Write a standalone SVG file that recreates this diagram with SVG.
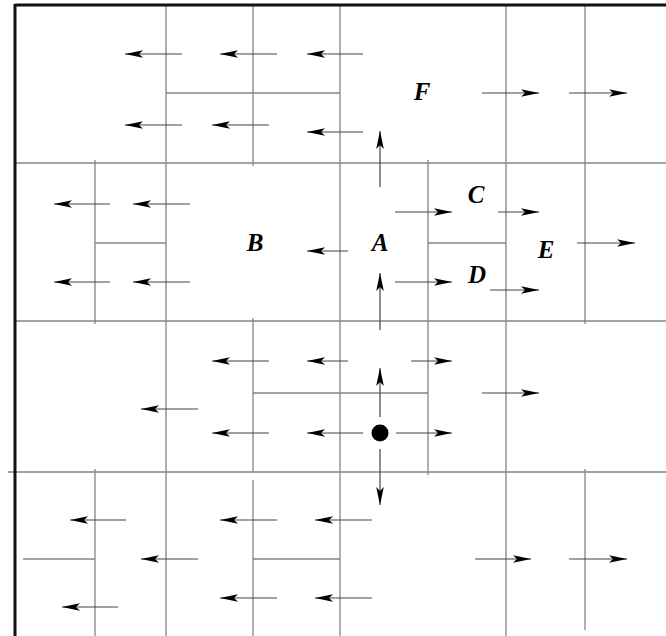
<svg xmlns="http://www.w3.org/2000/svg" width="666" height="636" viewBox="0 0 666 636">
<style>
.g{stroke:#858585;stroke-width:1.3;fill:none}
.b{stroke:#111;stroke-width:3;fill:none}
.a{stroke:#444;stroke-width:1.2;fill:none;marker-end:url(#ah)}
.l{font-family:"Liberation Serif",serif;font-style:italic;font-weight:bold;font-size:25px;fill:#000;text-anchor:middle}
</style>
<defs>
<marker id="ah" markerUnits="userSpaceOnUse" viewBox="-19 -5 20 10" refX="0" refY="0" markerWidth="20" markerHeight="10" orient="auto">
<path d="M0,0 L-18,-3.8 L-14,0 L-18,3.8 Z" fill="#000"/>
</marker>
</defs>
<rect width="666" height="636" fill="#fff"/>
<g id="grid">
<line class="g" x1="15" y1="163" x2="666" y2="163"/>
<line class="g" x1="15" y1="321" x2="666" y2="321"/>
<line class="g" x1="8" y1="472" x2="666" y2="472"/>
<line class="g" x1="166" y1="5" x2="166" y2="636"/>
<line class="g" x1="340" y1="5" x2="340" y2="636"/>
<line class="g" x1="506" y1="5" x2="506" y2="636"/>
<line class="g" x1="253" y1="5" x2="253" y2="166"/>
<line class="g" x1="253" y1="318" x2="253" y2="472"/>
<line class="g" x1="253" y1="480" x2="253" y2="636"/>
<line class="g" x1="428" y1="160" x2="428" y2="475"/>
<line class="g" x1="585" y1="5" x2="585" y2="324"/>
<line class="g" x1="585" y1="469" x2="585" y2="630"/>
<line class="g" x1="95" y1="160" x2="95" y2="324"/>
<line class="g" x1="95" y1="469" x2="95" y2="636"/>
<line class="g" x1="166" y1="93" x2="340" y2="93"/>
<line class="g" x1="95" y1="243" x2="166" y2="243"/>
<line class="g" x1="428" y1="243" x2="506" y2="243"/>
<line class="g" x1="253" y1="393" x2="428" y2="393"/>
<line class="g" x1="23" y1="559" x2="95" y2="559"/>
<line class="g" x1="253" y1="559" x2="340" y2="559"/>
<line class="b" x1="15" y1="5" x2="666" y2="5"/>
<line class="b" x1="15" y1="4" x2="15" y2="636"/>
</g>
<g id="connectors">
<line class="a" x1="182" y1="54" x2="125" y2="54"/>
<line class="a" x1="277" y1="54" x2="220" y2="54"/>
<line class="a" x1="363" y1="54" x2="307" y2="54"/>
<line class="a" x1="182" y1="125" x2="125" y2="125"/>
<line class="a" x1="269" y1="125" x2="212" y2="125"/>
<line class="a" x1="363" y1="132" x2="307" y2="132"/>
<line class="a" x1="380" y1="187" x2="380" y2="131"/>
<line class="a" x1="482" y1="93" x2="539" y2="93"/>
<line class="a" x1="569" y1="93" x2="627" y2="93"/>
<line class="a" x1="110" y1="204" x2="54" y2="204"/>
<line class="a" x1="190" y1="204" x2="133" y2="204"/>
<line class="a" x1="110" y1="282" x2="54" y2="282"/>
<line class="a" x1="190" y1="282" x2="133" y2="282"/>
<line class="a" x1="348" y1="251" x2="307" y2="251"/>
<line class="a" x1="395" y1="212" x2="452" y2="212"/>
<line class="a" x1="498" y1="212" x2="539" y2="212"/>
<line class="a" x1="380" y1="330" x2="380" y2="273"/>
<line class="a" x1="395" y1="282" x2="452" y2="282"/>
<line class="a" x1="490" y1="290" x2="539" y2="290"/>
<line class="a" x1="577" y1="243" x2="635" y2="243"/>
<line class="a" x1="269" y1="361" x2="212" y2="361"/>
<line class="a" x1="348" y1="361" x2="307" y2="361"/>
<line class="a" x1="411" y1="361" x2="452" y2="361"/>
<line class="a" x1="198" y1="409" x2="141" y2="409"/>
<line class="a" x1="380" y1="417" x2="380" y2="368"/>
<line class="a" x1="482" y1="393" x2="539" y2="393"/>
<line class="a" x1="269" y1="433" x2="212" y2="433"/>
<line class="a" x1="363" y1="433" x2="307" y2="433"/>
<line class="a" x1="396" y1="433" x2="452" y2="433"/>
<line class="a" x1="380" y1="449" x2="380" y2="505"/>
<line class="a" x1="126" y1="520" x2="70" y2="520"/>
<line class="a" x1="198" y1="559" x2="141" y2="559"/>
<line class="a" x1="118" y1="607" x2="62" y2="607"/>
<line class="a" x1="277" y1="520" x2="220" y2="520"/>
<line class="a" x1="372" y1="520" x2="315" y2="520"/>
<line class="a" x1="277" y1="598" x2="220" y2="598"/>
<line class="a" x1="372" y1="598" x2="315" y2="598"/>
<line class="a" x1="475" y1="559" x2="531" y2="559"/>
<line class="a" x1="569" y1="559" x2="627" y2="559"/>
</g>
<g id="node-dot"><circle cx="380" cy="433" r="8.5" fill="#000"/></g>
<g id="node-F"><text class="l" x="422" y="100">F</text></g>
<g id="node-B"><text class="l" x="255" y="251">B</text></g>
<g id="node-A"><text class="l" x="380" y="251">A</text></g>
<g id="node-C"><text class="l" x="476" y="203">C</text></g>
<g id="node-D"><text class="l" x="477" y="283">D</text></g>
<g id="node-E"><text class="l" x="546" y="258">E</text></g>
</svg>
